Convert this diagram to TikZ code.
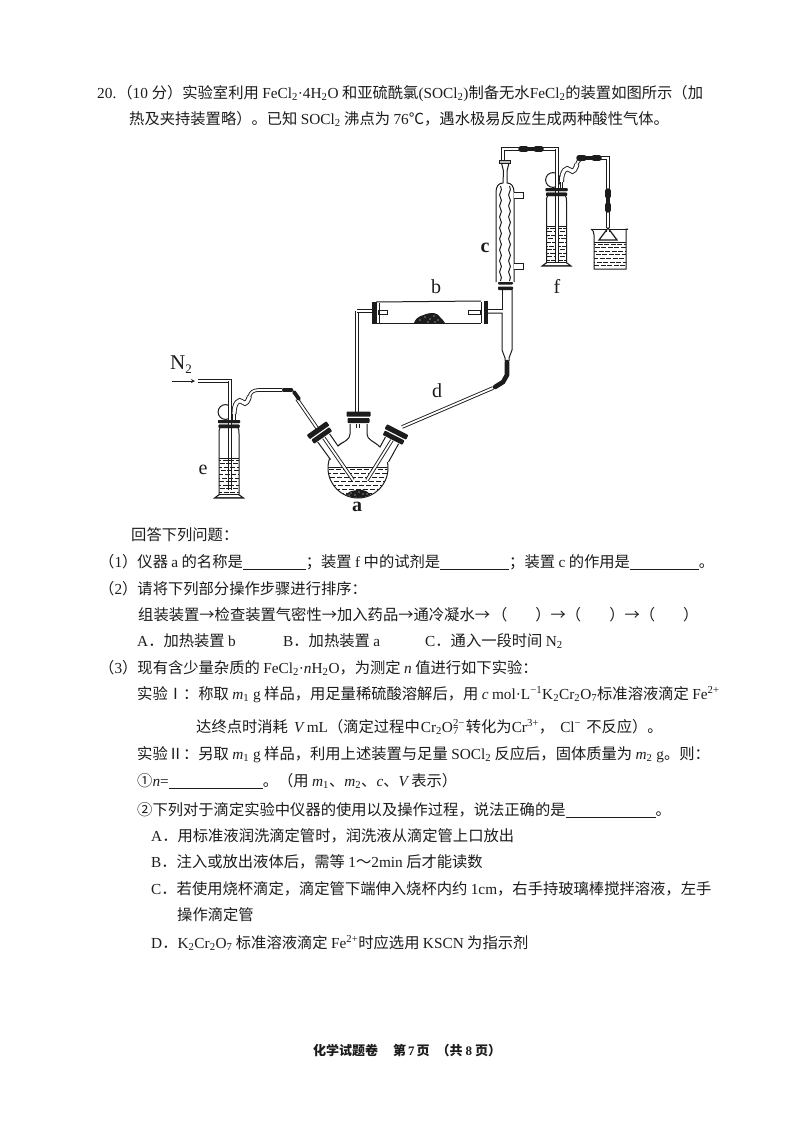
\documentclass[tikz,border=0pt]{standalone}
\usepackage{fontspec}
\setmainfont{Noto Sans CJK SC}
\newfontfamily\lat{Liberation Serif}
\usetikzlibrary{decorations.pathmorphing}
\definecolor{ink}{HTML}{1C1C1C}
\newcommand\la[1]{{\lat #1}}
\newcommand\lai[1]{{\lat\itshape #1}}
\newcommand\sub[1]{\textsubscript{#1}}
\newcommand\sups[1]{\textsuperscript{#1}}
\newcommand\blank[1]{\rule[-2.5pt]{#1pt}{.7pt}}
\newcommand\liquid[4]{% x1 y1 x2 y2
  \begin{scope}
    \clip (#1,#2) rectangle (#3,#4);
    \foreach \r [count=\n] in {0,3.6,...,40}{
      \pgfmathsetmacro\ph{mod(\n*3,7)}
      \draw[ink,line width=.8pt,dash pattern=on 5pt off 1.6pt,dash phase=\ph pt] (#1,#2+2+\r) -- (#3,#2+2+\r);
    }
  \end{scope}
  \draw[ink,line width=.7pt] (#1,#2) -- (#3,#2);
}
\newcommand\stopper[3]{% cx cy angle
  \begin{scope}[shift={(#1,#2)},rotate=#3]
    \fill[white] (-11,-5) rectangle (11,6);
    \fill[ink,rounded corners=.8pt] (-12,-6) rectangle (12,-.8);
    \fill[ink,rounded corners=.8pt] (-11,.6) rectangle (11,5.5);
  \end{scope}
}
\newcommand\gasbottle[3]{% cx ytop long-tube bottom
  \begin{scope}[shift={(#1,#2)}]
    \draw[glass] (-9,8) .. controls (-10,10) .. (-10,14) -- (-10,74);
    \draw[glass] (9,8) .. controls (10,10) .. (10,14) -- (10,74);
    \liquid{-10}{38}{10}{73}
    \fill[ink] (-10,74) -- (10,74) -- (16,78.5) -- (-16,78.5) -- cycle;
    \fill[white] (-9,75) -- (9,75) -- (12,77) -- (-12,77) -- cycle;
    % safety bulb
    \draw[glass,fill=white] (-3.5,-8) circle (7.4);
    % out tube with the wavy section
    \draw[tube] (5,2) -- (5,-6);
    \draw[draw=ink,line width=.9pt,double=white,double distance=3.2pt] (5,-6) .. controls (5,-17) and (10,-22) .. (13.5,-18) .. controls (17,-14) and (19.5,-20) .. (20.5,-24);
    \draw[tube] (20.5,-24) .. controls (21.5,-28) and (25,-30) .. (30,-30) -- (53,-30);
    % collar
    \fill[ink,rounded corners=.8pt] (-11,0) rectangle (11,3.2);
    \fill[ink,rounded corners=.8pt] (-10.5,4.6) rectangle (10.5,8);
  \end{scope}
}
\tikzset{
  glass/.style={draw=ink,line width=1pt},
  tube/.style={draw=ink,line width=.9pt,double=white,double distance=1.8pt},
  rubber/.style={draw=ink,line width=5pt,line cap=round},
  txt/.style={anchor=base west,inner sep=0pt,text=ink,font=\fontsize{15.3}{17}\selectfont},
  lab/.style={anchor=base,inner sep=0pt,text=ink,font=\fontsize{20}{20}\selectfont\lat},
}
\begin{document}
\begin{tikzpicture}[x=1pt,y=-1pt]
\useasboundingbox (0,0) rectangle (800,1132);
\fill[white] (0,0) rectangle (800,1132);

%---- flask a
\draw[glass] (358,468) circle (30);
\fill[white] (329,433) -- (317,441) -- (331,460) -- (345,462) -- (338,446) -- cycle;
\fill[white] (338,446) -- (350,434) -- (350,423) -- (367,423) -- (367,434) -- (380,447) -- (386,436) -- (399,443) -- (389,462) -- (370,462) -- (345,462) -- cycle;
\draw[glass] (317,441) -- (330.5,459.5);
\draw[glass] (329,433) -- (338,446) .. controls (344,441) and (350,440) .. (350,434) -- (350,423);
\draw[glass] (399,443) -- (388.5,462);
\draw[glass] (386,436) -- (380,447) .. controls (374,441) and (367,440) .. (367,434) -- (367,423);
\begin{scope}
  \clip (358,468) circle (29.6);
  \foreach \r [count=\n] in {0,4,...,32}{
    \pgfmathsetmacro\ph{mod(\n*3,7)}
    \draw[ink,line width=.8pt,dash pattern=on 5pt off 2pt,dash phase=\ph pt] (325,469+\r) -- (392,469+\r);
  }
  \draw[ink,line width=.7pt] (325,467) -- (392,467);
  \fill[ink] (343,500) .. controls (347,490) and (352,491) .. (358,490) .. controls (364,489) and (369,491) .. (374,500) -- cycle;
\end{scope}
\foreach \x/\y in {351/493,355/495,359/492,363/494,367/494,349/495}{\fill[white] (\x,\y) circle (.7);}
% tubes into flask
\draw[tube] (297,399) -- (353,480);
\draw[tube] (392,440) -- (367,480);
\draw[tube] (357,311) -- (357,412);
\draw[tube] (358,418) -- (358,428);
\stopper{320}{433}{35}
\stopper{358.5}{417.5}{0}
% left rubber
\draw[rubber,line width=4.6pt] (284,390) -- (291,390);
\draw[rubber,line width=3.8pt] (294,392) -- (299,399);

%---- bottle e
\draw[tube] (198,381) -- (230,381) -- (230,490);
\gasbottle{229}{420}{490}
\draw[tube] (230,381) -- (230,425);
\fill[ink,rounded corners=.8pt] (218,420) rectangle (240,423.2);
\fill[ink,rounded corners=.8pt] (218.5,424.6) rectangle (239.5,428);

%---- combustion tube b
\draw[glass] (376,302) -- (481,301);
\draw[glass] (376,323) -- (481,323);
\draw[tube] (372,311) -- (357,311);
\draw[glass,fill=white] (378,310) rectangle (387,314);
\draw[glass,fill=white] (468,310) rectangle (480,314);
\fill[ink] (372,302) rectangle (377,324);
\draw[ink,line width=.8pt] (379,303) -- (379,323);
\fill[ink] (484,301) rectangle (487.5,324);
\draw[ink,line width=.8pt] (481,302) -- (481,323);
\fill[ink] (414,323) .. controls (417,315) and (423,316) .. (426,314) .. controls (432,312) and (438,313) .. (440,317) .. controls (442,319) and (444,321) .. (445,323) -- cycle;
\foreach \x/\y in {420/320,425/317,430/319,434/316,438/320,428/322,435/322}{\fill[white] (\x,\y) circle (.7);}

%---- condenser c
\draw[glass] (496,282) -- (496,192) .. controls (496,186) and (499,183) .. (503,183) -- (503.5,171) -- (501.5,163);
\draw[glass] (514,282) -- (514,192) .. controls (514,186) and (511,183) .. (507,183) -- (507,171) -- (509,163);
\draw[glass,fill=white] (514,192) -- (523,192) -- (523,198) -- (514,198);
\draw[glass,fill=white] (514,263) -- (523,263) -- (523,269) -- (514,269);
\draw[glass,decorate,decoration={snake,amplitude=.9pt,segment length=11pt}] (500.5,186) -- (500.5,281);
\draw[glass,decorate,decoration={snake,amplitude=.9pt,segment length=11pt}] (509.5,186) -- (509.5,281);
\draw[draw=ink,line width=.6pt,fill=gray!50] (499,160) rectangle (510,163);
\fill[ink,rounded corners=.8pt] (498,282) rectangle (513,284.5);
\fill[ink,rounded corners=.8pt] (498,286.5) rectangle (513,290);
% adapter
\draw[glass] (502,290) -- (502,309) -- (487,309);
\draw[glass] (487,313) -- (502,313) -- (502,350) -- (505,358) -- (505,361);
\draw[glass] (512,290) -- (512,350) -- (509,358) -- (509,361);
% tube d
\draw[tube] (493,388) -- (402,427);
\draw[rubber,line width=4.6pt] (507,362) -- (507,375) -- (503,382) -- (495,387);
\stopper{395}{435}{-27}

%---- top connection and bottle f
\draw[tube] (503,160) -- (503,149) -- (557,149) -- (557,262);
\draw[rubber,line width=5.5pt] (521,149) -- (526,149);
\draw[rubber,line width=5.5pt] (536,149) -- (541,149);
\draw[ink,line width=3pt] (526,149) -- (536,149);
\gasbottle{556.5}{188}{262}
\draw[tube] (557,149) -- (557,262);
\fill[ink,rounded corners=.8pt] (545.5,188) rectangle (567.5,191.2);
\fill[ink,rounded corners=.8pt] (546,192.6) rectangle (567,196);
\draw[tube] (586,158) -- (608,158) -- (608,228);
\draw[rubber,line width=5.5pt] (579,158) -- (584,158);
\draw[rubber,line width=5.5pt] (594,158) -- (599,158);
\draw[ink,line width=3pt] (584,158) -- (594,158);
\draw[rubber,line width=5.5pt] (608,191) -- (608,196);
\draw[rubber,line width=5.5pt] (608,205) -- (608,210);
\draw[ink,line width=3pt] (608,196) -- (608,205);
% beaker
\liquid{594}{242}{626}{268}
\draw[glass] (591,229) .. controls (593,230) and (594,232) .. (594,235) -- (594,269) -- (626,269) -- (626,229) -- (628,229);
\draw[glass] (591,229) -- (628,229);
\draw[ink,line width=1.2pt,fill=white] (608,228) -- (599,240) -- (617,240) -- cycle;
\draw[glass] (606.5,229) -- (606.5,232);
\draw[glass] (609.5,229) -- (609.5,232);

%---- labels in the figure
\node[lab] (la) at (357,511) {\bfseries a};
\node[lab] (lb) at (436,293) {b};
\node[lab] (lc) at (485,252) {\bfseries c};
\node[lab] (ld) at (437,397) {d};
\node[lab] (le) at (203,474) {e};
\node[lab] (lf) at (557,293) {f};
\node[lab,font=\fontsize{21}{21}\selectfont\lat] (ln) at (181,369) {N\raisebox{-4pt}{\fontsize{13}{13}\selectfont 2}};
\coordinate (ar1) at (172,381);
\coordinate (ar2) at (195,381);
\draw[ink,line width=.8pt,-stealth] (ar1) -- (ar2);

%---- text
\node[txt] (t1) at (97,98) {\la{20.}\hspace{1pt}（\la{10 }分）实验室利用 \la{FeCl\sub{2}·4H\sub{2}O} 和亚硫酰氯\la{(SOCl\sub{2})}制备无水\la{FeCl\sub{2}}的装置如图所示（加};
\node[txt] (t2) at (129,124) {热及夹持装置略）。已知 \la{SOCl\sub{2}} 沸点为 \la{76}℃，遇水极易反应生成两种酸性气体。};
\node[txt] (t3) at (131,540) {回答下列问题：};
\node[txt] (t4) at (99,567) {（\la{1}）仪器 \la{a} 的名称是\blank{63}；装置 \la{f} 中的试剂是\blank{69}；装置 \la{c} 的作用是\blank{69}。};
\node[txt] (t5) at (99,594) {（\la{2}）请将下列部分操作步骤进行排序：};
\node[txt] (t6) at (138,620) {组装装置→检查装置气密性→加入药品→通冷凝水→\hspace{2pt}（\hspace{28pt}）→（\hspace{28pt}）→（\hspace{28pt}）};
\node[txt] (t7a) at (137,646) {\la{A}．加热装置 \la{b}};
\node[txt] (t7b) at (283,646) {\la{B}．加热装置 \la{a}};
\node[txt] (t7c) at (425,646) {\la{C}．通入一段时间 \la{N\sub{2}}};
\node[txt] (t8) at (99,673) {（\la{3}）现有含少量杂质的 \la{FeCl\sub{2}·\lai{n}H\sub{2}O}，为测定 \lai{n} 值进行如下实验：};
\node[txt] (t9) at (137,699) {实验Ⅰ：称取 \lai{m}\la{\sub{1} g} 样品，用足量稀硫酸溶解后，用 \lai{c} \la{mol·L\sups{−1}K\sub{2}Cr\sub{2}O\sub{7}}标准溶液滴定 \la{Fe\sups{2+}}};
\node[txt] (t10) at (196,732) {达终点时消耗\hspace{6pt}\lai{V} \la{mL}（滴定过程中\hspace{1pt}\la{Cr\sub{2}O\rlap{\sups{2−}}\sub{7}}\hspace{7pt}转化为\la{Cr\sups{3+}}，\hspace{6pt}\la{Cl\sups{−}}\hspace{5pt}不反应）。};
\node[txt] (t11) at (137,759) {实验Ⅱ：另取 \lai{m}\la{\sub{1} g} 样品，利用上述装置与足量 \la{SOCl\sub{2}} 反应后，固体质量为 \lai{m}\la{\sub{2} g}。则：};
\node[txt] (t12) at (137,786) {①\lai{n}\la{=}\blank{94}。（用 \lai{m}\la{\sub{1}}、\lai{m}\la{\sub{2}}、\lai{c}、\lai{V} 表示）};
\node[txt] (t13) at (137,815) {②下列对于滴定实验中仪器的使用以及操作过程，说法正确的是\blank{90}。};
\node[txt] (t14) at (151,841) {\la{A}．用标准液润洗滴定管时，润洗液从滴定管上口放出};
\node[txt] (t15) at (151,867) {\la{B}．注入或放出液体后，需等 \la{1}～\la{2min} 后才能读数};
\node[txt] (t16) at (151,894) {\la{C}．若使用烧杯滴定，滴定管下端伸入烧杯内约 \la{1cm}，右手持玻璃棒搅拌溶液，左手};
\node[txt] (t17) at (177,920) {操作滴定管};
\node[txt] (t18) at (151,948) {\la{D}．\la{K\sub{2}Cr\sub{2}O\sub{7}} 标准溶液滴定 \la{Fe\sups{2+}}时应选用 \la{KSCN} 为指示剂};
\node[txt,font=\fontsize{13}{15}\selectfont\bfseries] (t19) at (313,1055) {化学试题卷\hspace{15pt}第\hspace{2pt}\la{7}\hspace{2pt}页\hspace{7pt}（共\hspace{3pt}\la{8}\hspace{3pt}页）};
\end{tikzpicture}
\end{document}
